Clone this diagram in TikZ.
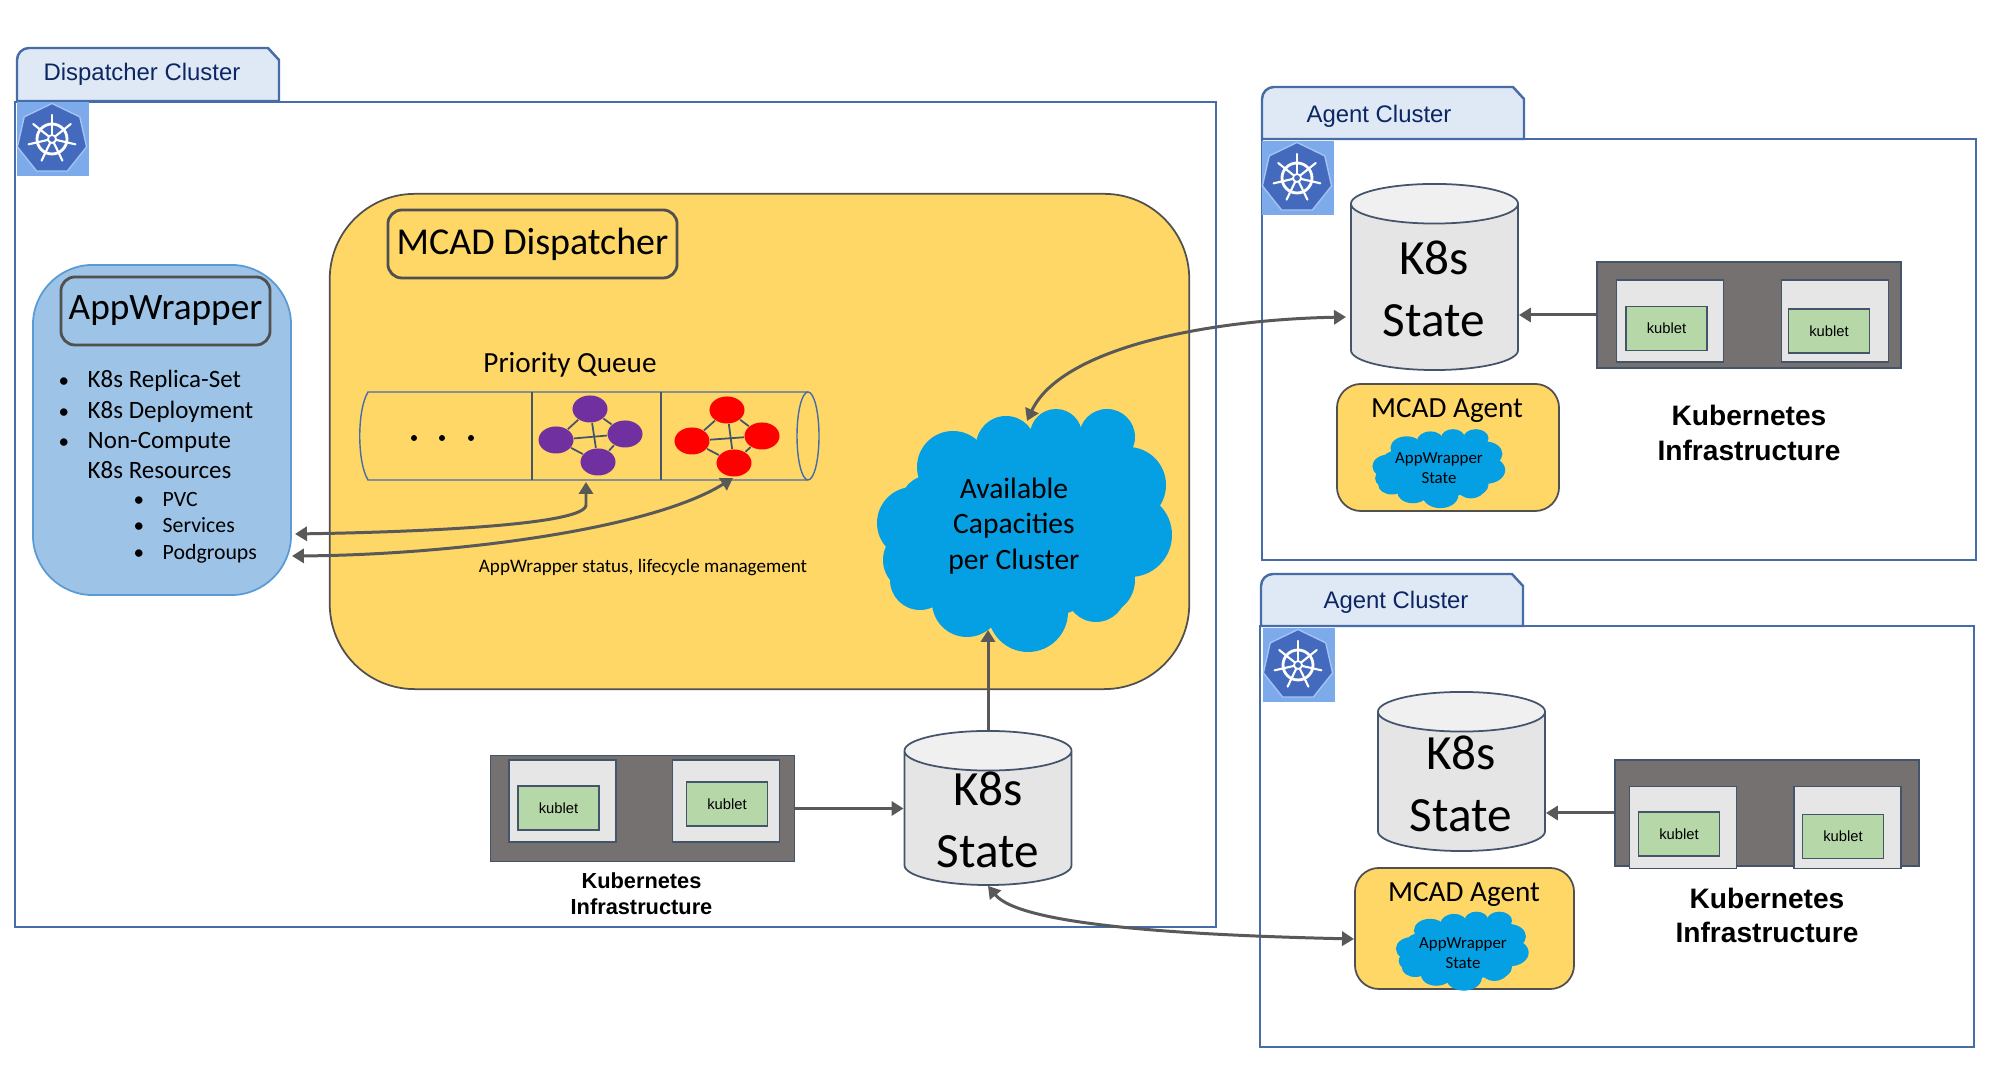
\documentclass[tikz,border=0pt]{standalone}
\usepackage{fontspec}
\setmainfont{Carlito}
\newfontfamily\arialfont{Liberation Sans}
\usetikzlibrary{arrows.meta, shapes.geometric}
\definecolor{clusterline}{RGB}{72,108,168}
\definecolor{tabbg}{RGB}{222,233,245}
\definecolor{tabtext}{RGB}{12,38,100}
\definecolor{iconbg}{RGB}{125,170,235}
\definecolor{iconfg}{RGB}{68,106,190}
\definecolor{mcadbg}{RGB}{254,215,102}
\definecolor{edgegray}{RGB}{80,80,80}
\definecolor{wrapbg}{RGB}{157,195,230}
\definecolor{wrapline}{RGB}{91,155,213}
\definecolor{cloudbg}{RGB}{5,159,227}
\definecolor{slate}{RGB}{68,84,106}
\definecolor{purplejob}{RGB}{112,48,160}
\definecolor{cyltop}{RGB}{240,240,240}
\definecolor{cylbody}{RGB}{229,229,229}
\definecolor{infrabg}{RGB}{118,113,113}
\definecolor{nodebg}{RGB}{231,230,230}
\definecolor{kubeletbg}{RGB}{182,215,168}
\definecolor{arrowgray}{RGB}{89,89,89}
\tikzset{
  clusterbox/.style={draw=clusterline,line width=0.6pt,fill=white,inner sep=0pt},
  clustertab/.style={draw=clusterline,line width=0.7pt,fill=tabbg},
  tabtext/.style={font=\arialfont\fontsize{6.8}{8}\selectfont,text=tabtext},
  mcadbox/.style={draw=edgegray,line width=0.5pt,fill=mcadbg,inner sep=0pt},
  titlebox/.style={draw=edgegray,line width=0.8pt,rounded corners=0.14cm,inner sep=0pt},
  wrapbox/.style={draw=wrapline,line width=0.5pt,fill=wrapbg,rounded corners=0.6cm,inner sep=0pt},
  itemtext/.style={anchor=west,inner sep=0pt,text height=1.6mm,text depth=0.5mm},
  statecyl/.style={cylinder,shape border rotate=90,anchor=shape center,draw=slate,line width=0.5pt,aspect=0.66,cylinder uses custom fill,cylinder end fill=cyltop,cylinder body fill=cylbody,minimum width=1.67cm,inner sep=0.3cm},
  statetext/.style={align=center,font=\fontsize{14}{17.6}\selectfont},
  infrabox/.style={draw=slate,line width=0.4pt,fill=infrabg,minimum width=3.04cm,minimum height=1.06cm,inner sep=0pt},
  workerbox/.style={draw=slate,line width=0.4pt,fill=nodebg,minimum width=1.07cm,minimum height=0.82cm,inner sep=0pt},
  kubeletbox/.style={draw=slate,line width=0.5pt,fill=kubeletbg,minimum width=0.81cm,minimum height=0.44cm,inner sep=0pt,font=\arialfont\fontsize{4.2}{5}\selectfont},
  infratext/.style={align=center,font=\arialfont\bfseries\fontsize{8}{9.7}\selectfont},
  jobnode/.style={ellipse,minimum width=0.35cm,minimum height=0.27cm,inner sep=0pt},
  biarrow/.style={{Triangle[length=3.4pt,width=4pt]}-{Triangle[length=3.4pt,width=4pt]},draw=arrowgray,line width=0.85pt},
  onearrow/.style={-{Triangle[length=3.4pt,width=4pt]},draw=arrowgray,line width=0.85pt},
  bluecloud/.pic={
    \fill[cloudbg] (0,0) ellipse [x radius=110,y radius=90];
    \foreach \x/\y/\r in {-19/-84/30,31/-95/26,82/-93/28,50/-60/40,-72/-63/36,103/-45/38,105/5/42,75/50/35,71/62/30,3/82/40,-58/72/35,-105/50/30,-110/30/32,-112/-7/36,-95/-25/30}
      \fill[cloudbg] (\x,\y) circle [radius=\r];
  },
  kubelogo/.pic={
    \fill[iconbg] (-36,-37) rectangle (36,37);
    \node[regular polygon,regular polygon sides=7,fill=iconfg,draw=iconbg!70!white,line width=0.4pt,minimum size=0.71cm,inner sep=0pt] (hept) at (-1,0) {};
    \draw[white,line width=0.8pt] (-1,0) circle [radius=15];
    \draw[white,line width=0.5pt] (-1,0) circle [radius=4];
    \foreach \k in {0,...,6}
      \draw[white,line width=0.6pt,line cap=round] (-1,0) ++(-90+\k*360/7:4) -- ++(-90+\k*360/7:20);
  }
}
\newcommand{\itemdot}{\makebox[0.29cm][l]{\fontsize{6}{6}\selectfont •}}
\begin{document}
\begin{tikzpicture}[x=0.01cm,y=-0.01cm]
  \useasboundingbox (0,0) rectangle (1999,1065);
  % clusters
  \node[clusterbox,minimum width=12.01cm,minimum height=8.25cm] (dispatcher) at (615.5,514.5) {};
  \draw[clustertab] [rounded corners=0.12cm] (17,101) -- (17,48) [sharp corners] -- (268,48) -- (279,60) -- (279,101) -- cycle;
  \node[tabtext] (dispatchertab) at (142,74) {Dispatcher Cluster};
  \node[clusterbox,minimum width=7.14cm,minimum height=4.21cm] (clusterA) at (1619,349.5) {};
  \draw[clustertab] [rounded corners=0.12cm] (1262,139) -- (1262,87) [sharp corners] -- (1513,87) -- (1524,99) -- (1524,139) -- cycle;
  \node[tabtext] (clusterAtab) at (1379,116) {Agent Cluster};
  \node[clusterbox,minimum width=7.14cm,minimum height=4.21cm] (clusterB) at (1617,836.5) {};
  \draw[clustertab] [rounded corners=0.12cm] (1261,626) -- (1261,574) [sharp corners] -- (1512,574) -- (1523,586) -- (1523,626) -- cycle;
  \node[tabtext] (clusterBtab) at (1396,602) {Agent Cluster};
  \pic (logoD) at (53,139) {kubelogo};
  \pic (logoA) at (1298,178) {kubelogo};
  \pic (logoB) at (1299,665) {kubelogo};
  % AppWrapper
  \node[wrapbox,minimum width=2.58cm,minimum height=3.30cm] (wrapper) at (162,430) {};
  \node[titlebox,minimum width=2.09cm,minimum height=0.68cm,font=\fontsize{10.6}{12}\selectfont] (wrappertitle) at (165.5,311) {AppWrapper};
  \node[itemtext,font=\fontsize{7.1}{8}\selectfont] (item1) at (58,382) {\itemdot K8s Replica-Set};
  \node[itemtext,font=\fontsize{7.1}{8}\selectfont] (item2) at (58,413) {\itemdot K8s Deployment};
  \node[itemtext,font=\fontsize{7.1}{8}\selectfont] (item3) at (58,443) {\itemdot Non-Compute};
  \node[itemtext,font=\fontsize{7.1}{8}\selectfont] (item4) at (87,473) {K8s Resources};
  \node[itemtext,font=\fontsize{6.2}{7}\selectfont] (sub1) at (133,501) {\itemdot PVC};
  \node[itemtext,font=\fontsize{6.2}{7}\selectfont] (sub2) at (133,527) {\itemdot Services};
  \node[itemtext,font=\fontsize{6.2}{7}\selectfont] (sub3) at (133,554) {\itemdot Podgroups};
  % MCAD dispatcher
  \node[mcadbox,rounded corners=0.85cm,minimum width=8.59cm,minimum height=4.95cm] (mcad) at (759.5,441.5) {};
  \node[titlebox,minimum width=2.89cm,minimum height=0.68cm,font=\fontsize{10.8}{13}\selectfont] (mcadtitle) at (532.5,244) {\raisebox{-1.5pt}{MCAD Dispatcher}};
  \node[font=\fontsize{8.3}{10}\selectfont] (queuetitle) at (570,365) {Priority Queue};
  % queue
  \draw[clusterline,line width=0.4pt] (808,392) -- (368,392) .. controls (357,410) and (357,462) .. (368,480) -- (808,480);
  \draw[clusterline,line width=0.4pt] (808,436) ellipse [x radius=11,y radius=44];
  \coordinate (divA) at (532,392);
  \coordinate (divB) at (661,392);
  \draw[slate,line width=0.4pt] (divA) -- ++(0,88);
  \draw[slate,line width=0.4pt] (divB) -- ++(0,88);
  \foreach \x in {414,442,471}
    \fill[black] (\x,438) circle [radius=3];
  \node[jobnode,fill=purplejob] (p1) at (590,409) {};
  \node[jobnode,fill=purplejob] (p2) at (556,440) {};
  \node[jobnode,fill=purplejob] (p3) at (625,434) {};
  \node[jobnode,fill=purplejob] (p4) at (598,462) {};
  \node[jobnode,fill=red] (r1) at (727,410) {};
  \node[jobnode,fill=red] (r2) at (692,441) {};
  \node[jobnode,fill=red] (r3) at (762,436) {};
  \node[jobnode,fill=red] (r4) at (734,463) {};
  \foreach \a/\b in {1/2,1/3,1/4,2/3,2/4,3/4} {
    \draw[slate,line width=0.5pt] (p\a) -- (p\b);
    \draw[slate,line width=0.5pt] (r\a) -- (r\b);
  }
  \node[font=\fontsize{5.43}{6}\selectfont] (statuslabel) at (643,568) {AppWrapper status, lifecycle management};
  % capacities
  \pic at (1025,530) {bluecloud};
  \node[align=center,font=\fontsize{8.4}{10.1}\selectfont] (capacities) at (1014,526) {Available\\Capacities\\per Cluster};
  \coordinate (capacitiestop) at (1027,421);
  \coordinate (capacitiesbot) at (988,630);
  % dispatcher side state
  \node[statecyl,minimum height=1.54cm] (stateD) at (988,808) {};
  \node[statetext] (stateDtext) at (988,820) {K8s\\State};
  \node[infrabox] (kubeD) at (642.5,808.5) {};
  \node[workerbox] (workerD1) at (562.5,801) {};
  \node[workerbox] (workerD2) at (726,801) {};
  \node[kubeletbox] (kubeletD1) at (558.5,808) {kublet};
  \node[kubeletbox] (kubeletD2) at (727,804) {kublet};
  \node[infratext,font=\arialfont\bfseries\fontsize{6.2}{7.4}\selectfont] (infraD) at (641.5,894) {Kubernetes\\Infrastructure};
  % first agent
  \node[statecyl,minimum height=1.86cm] (stateA) at (1434.5,277) {};
  \node[statetext] (stateAtext) at (1434,289) {K8s\\State};
  \node[infrabox] (kubeA) at (1749,315) {};
  \node[workerbox] (workerA1) at (1670,321) {};
  \node[workerbox] (workerA2) at (1835,321) {};
  \node[kubeletbox] (kubeletA1) at (1666.5,328.5) {kublet};
  \node[kubeletbox] (kubeletA2) at (1829,331) {kublet};
  \node[infratext] (infraA) at (1749,433) {Kubernetes\\Infrastructure};
  \node[mcadbox,rounded corners=0.24cm,minimum width=2.22cm,minimum height=1.27cm] (agentA) at (1448,447.5) {};
  \node[font=\fontsize{8.3}{10}\selectfont] (agentAtitle) at (1447,411) {MCAD Agent};
  \pic[xscale=0.45,yscale=0.325] at (1439,468.5) {bluecloud};
  \node[align=center,font=\fontsize{4.8}{5.7}\selectfont] (agentAstate) at (1439,468) {AppWrapper\\State};
  \coordinate (stateAin) at (1346,317);
  % second agent
  \node[statecyl,minimum height=1.59cm] (stateB) at (1461.5,771.5) {};
  \node[statetext] (stateBtext) at (1461,784) {K8s\\State};
  \node[infrabox] (kubeB) at (1767,813) {};
  \node[workerbox] (workerB1) at (1683,827.5) {};
  \node[workerbox] (workerB2) at (1847.5,827.5) {};
  \node[kubeletbox] (kubeletB1) at (1679,834) {kublet};
  \node[kubeletbox] (kubeletB2) at (1843,836.5) {kublet};
  \node[infratext] (infraB) at (1767,915.5) {Kubernetes\\Infrastructure};
  \node[mcadbox,rounded corners=0.24cm,minimum width=2.19cm,minimum height=1.21cm] (agentB) at (1464.5,928.5) {};
  \node[font=\fontsize{8.3}{10}\selectfont] (agentBtitle) at (1464,895) {MCAD Agent};
  \pic[xscale=0.45,yscale=0.325] at (1462.5,951) {bluecloud};
  \node[align=center,font=\fontsize{4.8}{5.7}\selectfont] (agentBstate) at (1463,953) {AppWrapper\\State};
  \coordinate (agentBin) at (1354,939);
  % connectors
  \coordinate (wrapperA) at (295,534);
  \coordinate (wrapperB) at (292,556);
  \coordinate (queueA) at (586,482);
  \coordinate (queueB) at (733,478);
  \draw[biarrow] (wrapperA) .. controls (420,532) and (586,525) .. (586,505) -- (queueA);
  \draw[biarrow] (wrapperB) .. controls (450,555) and (650,530) .. (queueB);
  \draw[biarrow] (capacitiestop) .. controls (1060,350) and (1200,320) .. (stateAin);
  \draw[biarrow] (stateD.south) .. controls (1020,925) and (1180,935) .. (agentBin);
  \draw[onearrow] (stateD.north -| capacitiesbot) -- (capacitiesbot);
  \draw[onearrow] (kubeD.east) -- (stateD.west |- kubeD.east);
  \draw[onearrow] (kubeA.west) -- (stateA.east |- kubeA.west);
  \draw[onearrow] (kubeB.west) -- (stateB.east |- kubeB.west);
\end{tikzpicture}
\end{document}
